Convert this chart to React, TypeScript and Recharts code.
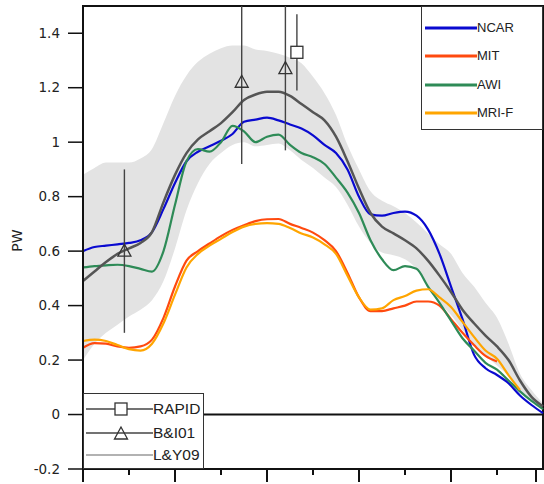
import React from 'react';
import {
  ComposedChart,
  Line,
  Area,
  Scatter,
  ErrorBar,
  XAxis,
  YAxis,
  ReferenceLine,
  ReferenceArea,
  Legend,
} from 'recharts';

// latitude grid (deg N)
const latitudes = [
  -20, -17.5, -15, -12.5, -10, -7.5, -5, -2.5, 0, 2.5, 5, 7.5, 10, 12.5, 15, 17.5, 20,
  22.5, 25, 27.5, 30, 32.5, 35, 37.5, 40, 42.5, 45, 47.5, 50, 52.5, 55, 57.5, 60, 62.5,
  65, 67.5, 70, 72.5, 75, 77.5, 80,
];

const ncar = [
  0.6, 0.615, 0.62, 0.625, 0.63, 0.64, 0.67, 0.755, 0.85, 0.93, 0.965, 0.985, 1.005, 1.03,
  1.075, 1.083, 1.09, 1.08, 1.065, 1.05, 1.025, 0.99, 0.96, 0.9, 0.8, 0.735, 0.73, 0.74,
  0.745, 0.73, 0.68, 0.59, 0.47, 0.35, 0.22, 0.17, 0.145, 0.115, 0.07, 0.035, 0.005,
];

const mit = [
  0.245, 0.262, 0.26, 0.25, 0.245, 0.25, 0.275, 0.355, 0.47, 0.565, 0.6, 0.628, 0.655,
  0.678, 0.695, 0.71, 0.717, 0.718, 0.7, 0.685, 0.668, 0.64, 0.6, 0.52, 0.43, 0.38, 0.38,
  0.39, 0.4, 0.415, 0.415, 0.4, 0.35, 0.3, 0.255, 0.215, 0.195,
];

const awi = [
  0.54, 0.545, 0.548, 0.55, 0.545, 0.535, 0.525, 0.6, 0.77, 0.93, 0.975, 0.965, 1.0, 1.06,
  1.04, 1.0, 1.02, 1.028, 0.99, 0.96, 0.945, 0.92, 0.87, 0.815, 0.74, 0.64, 0.57, 0.53,
  0.545, 0.535, 0.47, 0.41, 0.345, 0.28, 0.235, 0.19, 0.165, 0.125, 0.085, 0.05, 0.02,
];

const mrif = [
  0.27, 0.275, 0.27, 0.255, 0.24, 0.235, 0.26, 0.335, 0.44, 0.54, 0.59, 0.62, 0.645, 0.67,
  0.69, 0.7, 0.703, 0.7, 0.685, 0.665, 0.65, 0.625, 0.59, 0.51, 0.43, 0.385, 0.39, 0.42,
  0.435, 0.455, 0.46, 0.43, 0.395, 0.34, 0.285, 0.235, 0.205, 0.145, 0.09,
];

// L&Y09 estimate and its uncertainty band
const ly09 = [
  0.49, 0.525, 0.56, 0.59, 0.61, 0.63, 0.67, 0.78, 0.88, 0.96, 1.01, 1.04, 1.07, 1.11,
  1.155, 1.175, 1.185, 1.185, 1.17, 1.14, 1.11, 1.08, 1.02, 0.93, 0.83, 0.74, 0.69, 0.665,
  0.64, 0.61, 0.565, 0.51, 0.45, 0.385, 0.335, 0.29, 0.25, 0.2, 0.125, 0.065, 0.03,
];

const ly09Upper = [
  0.88, 0.905, 0.925, 0.925, 0.925, 0.94, 0.975, 1.07, 1.17, 1.245, 1.295, 1.325, 1.345,
  1.355, 1.355, 1.34, 1.335, 1.325, 1.31, 1.29, 1.24, 1.18, 1.1, 0.99, 0.9, 0.82, 0.785,
  0.765, 0.74, 0.705, 0.665, 0.625, 0.59, 0.52, 0.47, 0.41, 0.355, 0.26, 0.15, 0.09, 0.04,
];

const ly09Lower = [
  0.2, 0.26, 0.3, 0.33, 0.36, 0.385, 0.42, 0.49, 0.61, 0.75, 0.85, 0.92, 0.96, 0.99, 1.0,
  0.985, 0.99, 0.995, 0.97, 0.935, 0.905, 0.87, 0.835, 0.77, 0.69, 0.63, 0.595, 0.585,
  0.57, 0.535, 0.47, 0.41, 0.365, 0.31, 0.26, 0.215, 0.18, 0.14, 0.085, 0.05, 0.02,
];

// hydrographic estimates (value +/- err)
const rapidObs = [{ lat: 26.5, pw: 1.33, err: 0.14 }];
const bi01Obs = [
  { lat: -11, pw: 0.6, err: 0.3 },
  { lat: 14.5, pw: 1.22, err: 0.3 },
  { lat: 24, pw: 1.27, err: 0.3 },
];

const xTicks = [-20, -10, 0, 10, 20, 30, 40, 50, 60, 70, 80];
const yTicks = [-0.2, 0, 0.2, 0.4, 0.6, 0.8, 1, 1.2, 1.4];
const Y_MIN = -0.2;
const Y_MAX = 1.5;

const models = [
  { key: 'ncar', name: 'NCAR', color: '#0a0ad0' },
  { key: 'mit', name: 'MIT', color: '#ff4a0f' },
  { key: 'awi', name: 'AWI', color: '#2e8b57' },
  { key: 'mrif', name: 'MRI-F', color: '#ffa500' },
];

const obsLegend = [
  { name: 'RAPID', marker: 'square', color: '#444' },
  { name: 'B&I01', marker: 'triangle', color: '#444' },
  { name: 'L&Y09', marker: 'none', color: '#999' },
];

const rows = latitudes.map((lat, i) => ({
  lat,
  ncar: ncar[i],
  mit: mit[i],
  awi: awi[i],
  mrif: mrif[i],
  ly09: ly09[i],
  band: [ly09Lower[i], ly09Upper[i]],
}));

// error bars stop at the frame instead of running past it
const withBars = (obs: { lat: number; pw: number; err: number }[]) =>
  obs.map((o) => ({
    ...o,
    bar: [Math.min(o.err, o.pw - Y_MIN), Math.min(o.err, Y_MAX - o.pw)],
  }));

const AXIS = '#111';
const tickFont = { fontFamily: '"DejaVu Sans", sans-serif', fontSize: 13.5, fill: '#222' };
const legendFont = '"Liberation Sans", Arial, sans-serif';

const Triangle = ({ cx, cy, stroke = '#333' }: any) => (
  <polygon
    points={`${cx},${cy - 7} ${cx - 6.5},${cy + 5} ${cx + 6.5},${cy + 5}`}
    fill="none"
    stroke={stroke}
    strokeWidth={1.3}
  />
);

const Square = ({ cx, cy, stroke = '#333' }: any) => (
  <rect x={cx - 6} y={cy - 6} width={12} height={12} fill="#fff" stroke={stroke} strokeWidth={1.3} />
);

const XTick = ({ x, y, payload }: any) => (
  <line
    x1={x}
    x2={x}
    y1={y}
    y2={y + (payload.value % 20 === 0 ? 13 : 6)}
    stroke={AXIS}
    strokeWidth={2}
  />
);

const PwLabel = ({ viewBox }: any) => {
  const x = viewBox.x + 17;
  const y = viewBox.y + viewBox.height / 2 + 3;
  return (
    <text
      x={x}
      y={y}
      transform={`rotate(-90, ${x}, ${y})`}
      textAnchor="middle"
      dominantBaseline="central"
      style={{ ...tickFont, fontSize: 14 }}
    >
      PW
    </text>
  );
};

const renderLegends = ({ payload }: any) => {
  const items = models
    .map((m) => (payload || []).find((p: any) => p.value === m.name))
    .filter(Boolean);
  return (
    <div style={{ position: 'relative', width: 544, height: 484, fontFamily: legendFont }}>
      <div
        style={{
          position: 'absolute',
          left: 421,
          top: 6,
          width: 122,
          height: 124,
          boxSizing: 'border-box',
          border: '1.5px solid #333',
          background: '#fff',
        }}
      >
        {items.map((p: any, i: number) => (
          <div
            key={p.value}
            style={{
              position: 'absolute',
              left: 3,
              top: 21 + i * 28.3 - 8,
              height: 16,
              display: 'flex',
              alignItems: 'center',
            }}
          >
            <svg width={52} height={16}>
              <line x1={0} x2={52} y1={8} y2={8} stroke={p.color} strokeWidth={3} />
            </svg>
            <span style={{ fontSize: 13, color: '#222', lineHeight: '16px' }}>{p.value}</span>
          </div>
        ))}
      </div>
      <div
        style={{
          position: 'absolute',
          left: 83,
          top: 393,
          width: 121,
          height: 76,
          boxSizing: 'border-box',
          border: '1.5px solid #333',
          background: '#fff',
        }}
      >
        {obsLegend.map((o, i) => (
          <div
            key={o.name}
            style={{
              position: 'absolute',
              left: 1,
              top: [15, 39, 61][i] - 9,
              height: 18,
              display: 'flex',
              alignItems: 'center',
            }}
          >
            <svg width={68} height={18}>
              <line x1={1} x2={68} y1={9} y2={9} stroke={o.color} strokeWidth={1.3} />
              {o.marker === 'square' && <Square cx={36} cy={9} stroke="#333" />}
              {o.marker === 'triangle' && <Triangle cx={36} cy={10} stroke="#333" />}
            </svg>
            <span style={{ fontSize: 15.5, color: '#222', lineHeight: '18px' }}>{o.name}</span>
          </div>
        ))}
      </div>
    </div>
  );
};

export default function App() {
  return (
    <div style={{ position: 'absolute', left: 0, top: 0, background: '#fff' }}>
      <ComposedChart
        width={544}
        height={484}
        data={rows}
        margin={{ top: 6, right: 1, bottom: 0, left: 0 }}
      >
        <XAxis
          dataKey="lat"
          type="number"
          domain={[-20, 80]}
          ticks={xTicks}
          height={15}
          tickSize={0}
          tickMargin={0}
          tickLine={false}
          tick={<XTick />}
          axisLine={{ stroke: AXIS, strokeWidth: 2 }}
        />
        <YAxis
          type="number"
          domain={[Y_MIN, Y_MAX]}
          ticks={yTicks}
          allowDataOverflow
          width={83}
          tickSize={15}
          tickMargin={8}
          tick={tickFont}
          tickFormatter={(v: number) => String(Number(v.toFixed(1)))}
          tickLine={{ stroke: AXIS, strokeWidth: 1.5 }}
          axisLine={{ stroke: AXIS, strokeWidth: 2 }}
          label={{ content: PwLabel }}
        />
        <Area
          dataKey="band"
          type="monotone"
          fill="#e3e3e3"
          fillOpacity={1}
          stroke="none"
          legendType="none"
          isAnimationActive={false}
        />
        <ReferenceLine y={0} stroke={AXIS} strokeWidth={2} />
        {models.map((m) => (
          <Line
            key={m.key}
            dataKey={m.key}
            name={m.name}
            type="monotone"
            stroke={m.color}
            strokeWidth={2.2}
            dot={false}
            isAnimationActive={false}
          />
        ))}
        <Line
          dataKey="ly09"
          name="L&Y09"
          type="monotone"
          stroke="#555"
          strokeWidth={2.5}
          dot={false}
          legendType="none"
          isAnimationActive={false}
        />
        <Scatter
          data={withBars(bi01Obs)}
          dataKey="pw"
          name="B&I01"
          legendType="none"
          shape={<Triangle />}
          isAnimationActive={false}
        >
          <ErrorBar dataKey="bar" direction="y" width={0} stroke="#444" strokeWidth={1.4} />
        </Scatter>
        <Scatter
          data={withBars(rapidObs)}
          dataKey="pw"
          name="RAPID"
          legendType="none"
          shape={<Square />}
          isAnimationActive={false}
        >
          <ErrorBar dataKey="bar" direction="y" width={0} stroke="#444" strokeWidth={1.4} />
        </Scatter>
        <ReferenceArea
          x1={-20}
          x2={80}
          y1={Y_MIN}
          y2={Y_MAX}
          fill="none"
          stroke={AXIS}
          strokeWidth={2}
        />
        <Legend
          layout="horizontal"
          verticalAlign="middle"
          align="center"
          content={renderLegends}
          wrapperStyle={{ position: 'absolute', left: 0, top: 0, width: 544, height: 484, pointerEvents: 'none' }}
        />
      </ComposedChart>
    </div>
  );
}
